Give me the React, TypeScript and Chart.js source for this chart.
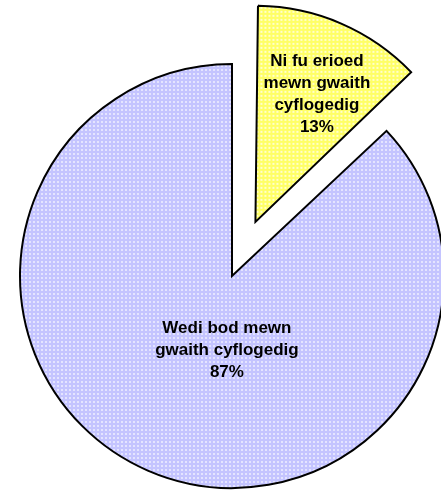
import React, { useEffect, useRef } from "react";
import { Chart, registerables } from "chart.js";

Chart.register(...registerables);

// ---- data ----
const categoryLines: string[][] = [
  ["Ni fu erioed", "mewn gwaith", "cyflogedig"],
  ["Wedi bod mewn", "gwaith cyflogedig"],
];
const values: number[] = [13, 87];
const percentLabels: string[] = ["13%", "87%"];

// ---- styles ----
const baseColors = ["#FFFF66", "#C4C4FF"];
const dotColors = ["#FFFFCC", "#E4E4FF"];
const sliceOffsets = [236, 0]; // chart.js translates by offset/4
const radiusExtra = [4, 0];
const pieRadius = 212;
const labelFrac: [number, number][] = [
  [0.29, -0.603],
  [-0.024, 0.349],
];
const FONT = 'bold 17px "Liberation Sans", Arial, sans-serif';
const LINE_H = 22;

function makePattern(base: string, dot: string): CanvasPattern | string {
  const c = document.createElement("canvas");
  c.width = 4;
  c.height = 4;
  const g = c.getContext("2d");
  if (!g) return base;
  g.fillStyle = base;
  g.fillRect(0, 0, 4, 4);
  g.fillStyle = dot;
  g.fillRect(1, 1, 2, 2);
  return g.createPattern(c, "repeat") || base;
}

const offsetFix = {
  id: "offsetFix",
  afterDatasetUpdate(chart: any, args: any) {
    const meta = chart.getDatasetMeta(args.index);
    meta.data.forEach((arc: any, i: number) => {
      const t = (sliceOffsets[i] || 0) / 4;
      const circ = arc.endAngle - arc.startAngle;
      const fix = 1 - Math.sin(Math.min(Math.PI, circ));
      arc.outerRadius = arc.outerRadius - t * fix + (radiusExtra[i] || 0);
    });
  },
};

const sliceLabels = {
  id: "sliceLabels",
  afterDatasetsDraw(chart: any) {
    const meta = chart.getDatasetMeta(0);
    const ctx = chart.ctx as CanvasRenderingContext2D;
    ctx.save();
    ctx.font = FONT;
    ctx.fillStyle = "#000";
    ctx.textAlign = "center";
    ctx.textBaseline = "middle";
    meta.data.forEach((arc: any, i: number) => {
      const { x, y, startAngle, endAngle } = arc;
      const half = (startAngle + endAngle) / 2;
      const t = (sliceOffsets[i] || 0) / 4;
      const cx = x + Math.cos(half) * t;
      const cy = y + Math.sin(half) * t;
      const lx = cx + labelFrac[i][0] * pieRadius;
      const ly = cy + labelFrac[i][1] * pieRadius;
      const lines = [...categoryLines[i], percentLabels[i]];
      lines.forEach((ln, k) => {
        ctx.fillText(ln, lx, ly + (k - (lines.length - 1) / 2) * LINE_H);
      });
    });
    ctx.restore();
  },
};

export default function App() {
  const ref = useRef<HTMLCanvasElement | null>(null);
  useEffect(() => {
    if (!ref.current) return;
    const patterns = baseColors.map((b, i) => makePattern(b, dotColors[i]));
    const chart = new Chart(ref.current, {
      type: "pie",
      data: {
        labels: categoryLines.map((l) => l.join(" ")),
        datasets: [
          {
            data: values,
            backgroundColor: patterns as any,
            borderColor: "#000000",
            borderWidth: 2,
            borderJoinStyle: "miter",
            offset: sliceOffsets,
            clip: false,
          } as any,
        ],
      },
      options: {
        responsive: false,
        animation: false,
        devicePixelRatio: 1,
        radius: pieRadius,
        layout: { padding: { top: 62, left: 0, right: 0, bottom: 0 } },
        plugins: {
          legend: { display: false },
          tooltip: { enabled: false },
          title: { display: false },
        },
      } as any,
      plugins: [offsetFix, sliceLabels],
    });
    return () => chart.destroy();
  }, []);
  return (
    <div
      style={{
        position: "fixed",
        left: 0,
        top: 0,
        width: 441,
        height: 490,
        overflow: "hidden",
        background: "#ffffff",
      }}
    >
      <canvas
        ref={ref}
        width={464}
        height={490}
        style={{ position: "absolute", left: 0, top: 0, width: 464, height: 490 }}
      />
    </div>
  );
}
